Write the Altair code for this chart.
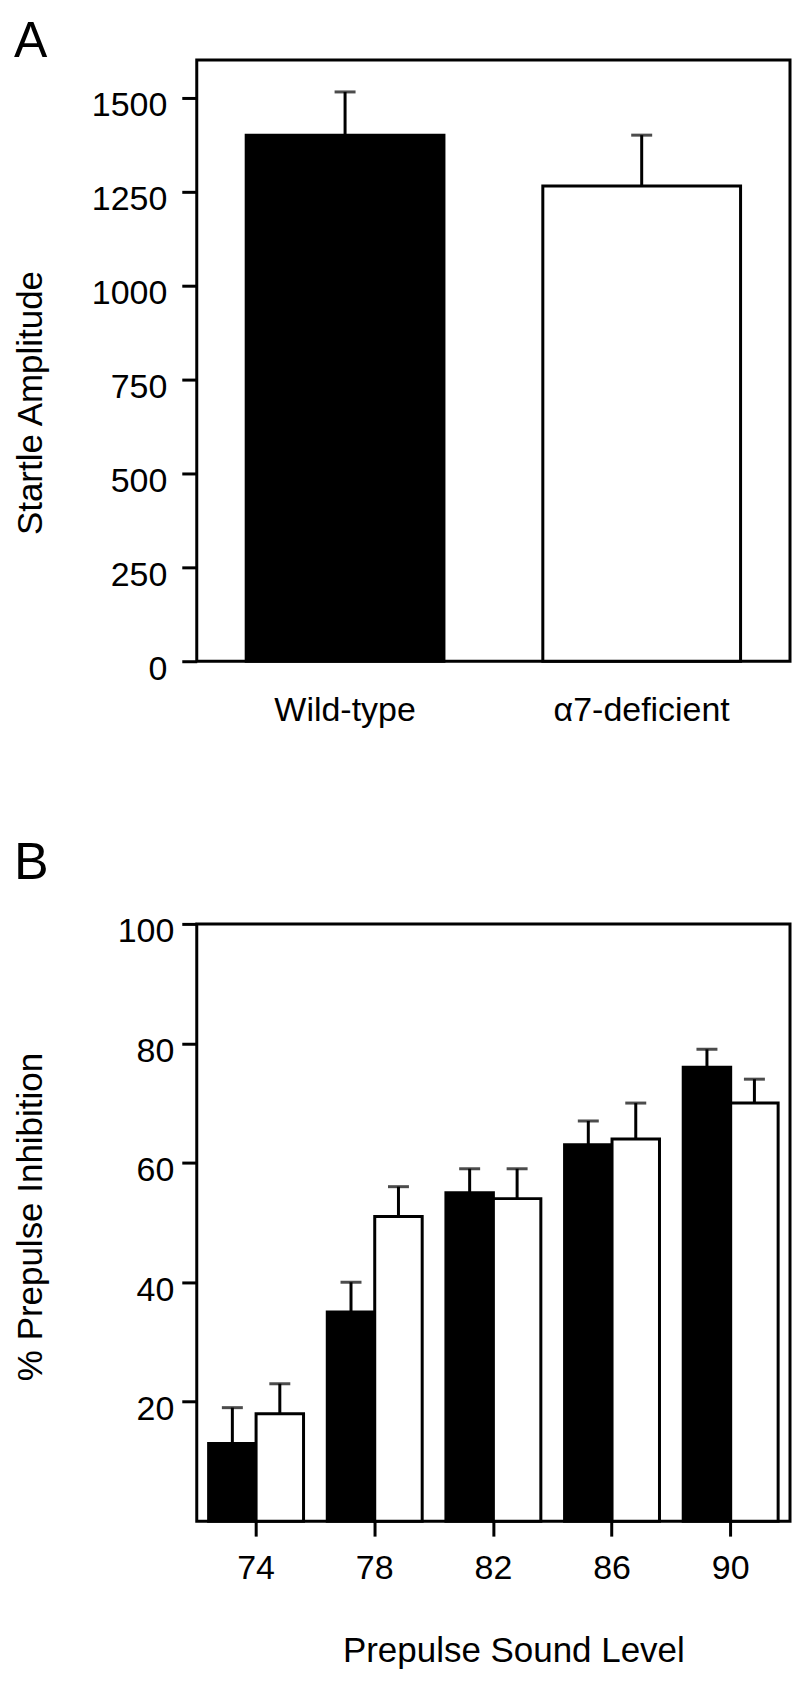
import altair as alt
import pandas as pd

FONT = "Liberation Sans"

# ---------------- data ----------------
panel_labels = ["A", "B"]

genotypes = ["Wild-type", "α7-deficient"]
startle_mean = [1400, 1265]
startle_sem = [115, 135]
startle_ticks = [0, 250, 500, 750, 1000, 1250, 1500]

levels = ["74", "78", "82", "86", "90"]
groups = ["WT", "KO"]
wt_ppi = [13, 35, 55, 63, 76]
wt_sem = [6, 5, 4, 4, 3]
ko_ppi = [18, 51, 54, 64, 70]
ko_sem = [5, 5, 5, 6, 4]
ppi_ticks = [20, 40, 60, 80, 100]

# ---------------- tables ----------------
dfA = pd.DataFrame({"genotype": genotypes, "mean": startle_mean, "sem": startle_sem})
dfA["top"] = dfA["mean"] + dfA["sem"]

rows = []
for lv, m, s in zip(levels, wt_ppi, wt_sem):
    rows.append({"level": lv, "group": "WT", "mean": m, "sem": s})
for lv, m, s in zip(levels, ko_ppi, ko_sem):
    rows.append({"level": lv, "group": "KO", "mean": m, "sem": s})
dfB = pd.DataFrame(rows)
dfB["top"] = dfB["mean"] + dfB["sem"]

SW = 3
W = 594

# ---------------- panel A ----------------
xA = alt.X(
    "genotype:N", sort=genotypes,
    scale=alt.Scale(paddingInner=1 / 3, paddingOuter=1 / 6),
    axis=alt.Axis(title=None, ticks=False, tickSize=0, labelPadding=32,
                  labelAngle=0, labelFontSize=34, labelFont=FONT, labelColor="black",
                  domain=False),
)
axisYA = alt.Axis(values=startle_ticks, format="d", title="Startle Amplitude", titleFontSize=35,
                  titleFont=FONT, titleFontWeight="normal", titleAngle=270,
                  titleX=-155, titleY=343, titleAlign="center", titleBaseline="alphabetic",
                  labelFontSize=34, labelFont=FONT, labelPadding=15, labelOffset=8,
                  tickSize=15, tickWidth=SW, tickColor="black", domain=False, grid=False,
                  labelColor="black", titleColor="black")
scaleYA = alt.Scale(domain=[0, 1600], nice=False)

fillA = alt.Fill("genotype:N", scale=alt.Scale(domain=genotypes, range=["black", "white"]), legend=None)

barsA = alt.Chart(dfA).mark_bar(stroke="black", strokeWidth=SW).encode(
    x=xA, y=alt.Y("mean:Q", scale=scaleYA, axis=axisYA), fill=fillA)
stemA = alt.Chart(dfA).mark_rule(color="black", strokeWidth=SW).encode(
    x=xA, y=alt.Y("mean:Q", scale=scaleYA, axis=axisYA), y2="top:Q")
capA = alt.Chart(dfA).mark_tick(color="black", size=21, thickness=SW).encode(
    x=xA, y=alt.Y("top:Q", scale=scaleYA, axis=axisYA))
labA = alt.Chart(pd.DataFrame({"t": [panel_labels[0]]})).mark_text(
    fontSize=50, font=FONT, align="left", baseline="top", color="black").encode(
    text="t:N", x=alt.value(-183), y=alt.value(-43))

chartA = alt.layer(barsA, stemA, capA, labA).properties(width=W, height=602)

# ---------------- panel B ----------------
xB = alt.X(
    "level:N", sort=levels,
    scale=alt.Scale(paddingInner=0.2, paddingOuter=0.1),
    axis=alt.Axis(title="Prepulse Sound Level", titleFontSize=35, titleFont=FONT,
                  titleFontWeight="normal", titleX=317, titleY=141, titleAlign="center",
                  titleBaseline="alphabetic", titleColor="black",
                  labelAngle=0, labelFontSize=34, labelFont=FONT, labelPadding=15,
                  labelColor="black", tickSize=15, tickWidth=SW, tickColor="black",
                  domain=False),
)
xoB = alt.XOffset("group:N", sort=groups, scale=alt.Scale(paddingInner=0, paddingOuter=0))
axisYB = alt.Axis(values=ppi_ticks, format="d", title="% Prepulse Inhibition", titleFontSize=35,
                  titleFont=FONT, titleFontWeight="normal", titleAngle=270,
                  titleX=-155, titleY=293, titleAlign="center", titleBaseline="alphabetic",
                  labelFontSize=34, labelFont=FONT, labelPadding=8, labelOffset=8,
                  tickSize=15, tickWidth=SW, tickColor="black", domain=False, grid=False,
                  labelColor="black", titleColor="black")
scaleYB = alt.Scale(domain=[0, 100], nice=False)
fillB = alt.Fill("group:N", scale=alt.Scale(domain=groups, range=["black", "white"]), legend=None)

barsB = alt.Chart(dfB).mark_bar(stroke="black", strokeWidth=SW).encode(
    x=xB, xOffset=xoB, y=alt.Y("mean:Q", scale=scaleYB, axis=axisYB), fill=fillB)
stemB = alt.Chart(dfB).mark_rule(color="black", strokeWidth=SW).encode(
    x=xB, xOffset=xoB, y=alt.Y("mean:Q", scale=scaleYB, axis=axisYB), y2="top:Q")
capB = alt.Chart(dfB).mark_tick(color="black", size=21, thickness=SW).encode(
    x=xB, xOffset=xoB, y=alt.Y("top:Q", scale=scaleYB, axis=axisYB))
labB = alt.Chart(pd.DataFrame({"t": [panel_labels[1]]})).mark_text(
    fontSize=52, font=FONT, align="left", baseline="top", color="black").encode(
    text="t:N", x=alt.value(-183), y=alt.value(-86))

chartB = alt.layer(barsB, stemB, capB, labB).properties(width=W, height=598)

chart = alt.vconcat(chartA, chartB, spacing=263, bounds="flush").properties(
    padding={"left": 4, "top": 6, "right": 0, "bottom": 2}
).configure_view(stroke="black", strokeWidth=SW).configure_axis(grid=False)

chart.save("out.html", embed_options={"renderer": "svg", "actions": False})
